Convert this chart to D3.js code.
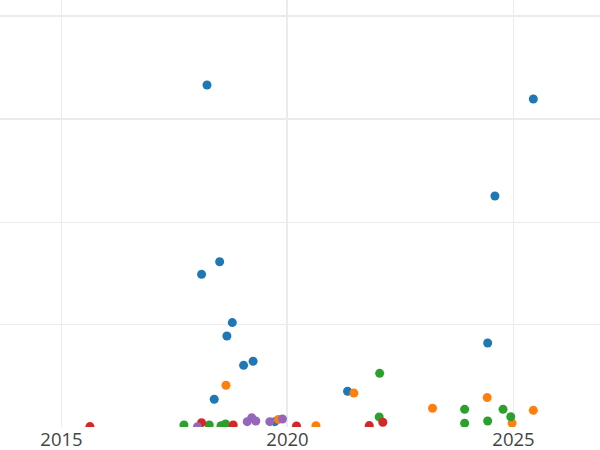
<!DOCTYPE html>
<html>
<head>
<meta charset="utf-8">
<script src="https://cdn.jsdelivr.net/npm/d3@7"></script>
<style>
  html, body { margin: 0; padding: 0; background: #fff; }
  svg { display: block; }
</style>
</head>
<body>
<svg id="chart" width="600" height="450"></svg>
<script>
// ---- data (year, value) ----
const blueYears   = [2018.23, 2025.45, 2024.60, 2018.51, 2018.11, 2018.79, 2018.67, 2019.04, 2019.25, 2024.44, 2018.39, 2021.34, 2019.73];
const blueValues  = [166.4, 159.6, 112.4, 80.4, 74.3, 50.8, 44.3, 30.0, 32.0, 40.9, 13.5, 17.4, 2.6];

const orangeYears  = [2018.65, 2021.48, 2023.22, 2024.43, 2025.45, 2024.98, 2020.64, 2019.81];
const orangeValues = [20.3, 16.5, 9.1, 14.3, 8.1, 1.9, 0.6, 3.7];

const greenYears  = [2017.72, 2018.28, 2018.54, 2018.64, 2022.05, 2022.04, 2023.93, 2023.93, 2024.44, 2024.78, 2024.95];
const greenValues = [1.0, 1.0, 0.6, 1.5, 26.1, 4.9, 8.6, 1.8, 2.9, 8.6, 5.0];

const redYears  = [2015.64, 2018.11, 2018.81, 2020.21, 2021.82, 2022.12];
const redValues = [0.2, 2.1, 1.0, 0.5, 0.7, 2.3];

const purpleYears  = [2018.02, 2019.12, 2019.22, 2019.31, 2019.62, 2019.90];
const purpleValues = [0.1, 2.6, 4.5, 2.9, 2.6, 3.9];

const seriesNames  = ["blue", "orange", "green", "red", "purple"];
const seriesColors = ["#1f77b4", "#ff7f0e", "#2ca02c", "#d62728", "#9467bd"];

const xTicks = [2015, 2020, 2025];
const yTicks = [50, 100, 150, 200];

// ---- layout ----
const plot = { left: 0, top: 0, width: 600, height: 427 };

const x = d3.scaleLinear()
  .domain([2015 - 61 / 45.2, 2015 + 539 / 45.2])
  .range([plot.left, plot.left + plot.width]);
const y = d3.scaleLinear()
  .domain([0, 200 * 427 / 411])
  .range([plot.top + plot.height, plot.top]);

const svg = d3.select("#chart");

svg.append("defs").append("clipPath").attr("id", "clip")
  .append("rect")
  .attr("x", plot.left).attr("y", plot.top)
  .attr("width", plot.width).attr("height", plot.height);

const grid = svg.append("g").attr("clip-path", "url(#clip)");

// horizontal grid
grid.selectAll("line.h").data(yTicks).enter().append("line")
  .attr("class", "h")
  .attr("x1", plot.left).attr("x2", plot.left + plot.width)
  .attr("y1", d => Math.round(y(d)) + (d >= 150 ? 0 : 0.5))
  .attr("y2", d => Math.round(y(d)) + (d >= 150 ? 0 : 0.5))
  .attr("stroke", "#ebebeb")
  .attr("stroke-width", d => d >= 150 ? 2 : 1);

// vertical grid
grid.selectAll("line.v").data(xTicks).enter().append("line")
  .attr("class", "v")
  .attr("x1", d => Math.round(x(d)) + (d === 2020 ? 0 : 0.5))
  .attr("x2", d => Math.round(x(d)) + (d === 2020 ? 0 : 0.5))
  .attr("y1", plot.top).attr("y2", plot.top + plot.height)
  .attr("stroke", "#ebebeb")
  .attr("stroke-width", d => d === 2020 ? 2 : 1);

// x axis labels via d3 axis
const xAxis = d3.axisBottom(x).tickValues(xTicks).tickFormat(d3.format("d")).tickSize(0).tickPadding(0);
const axG = svg.append("g")
  .attr("transform", `translate(0, ${plot.top + plot.height})`)
  .call(xAxis);
axG.select(".domain").remove();
axG.selectAll("text")
  .attr("dy", null)
  .attr("y", 19)
  .attr("fill", "#444")
  .style("font-family", "'Open Sans', sans-serif")
  .style("font-size", "18.5px");

// points
const allSeries = [
  { years: blueYears, values: blueValues },
  { years: orangeYears, values: orangeValues },
  { years: greenYears, values: greenValues },
  { years: redYears, values: redValues },
  { years: purpleYears, values: purpleValues }
];

const pts = svg.append("g").attr("clip-path", "url(#clip)");
allSeries.forEach((s, i) => {
  const data = s.years.map((yr, j) => ({ yr, v: s.values[j] }));
  pts.append("g").attr("class", seriesNames[i])
    .selectAll("circle").data(data).enter().append("circle")
    .attr("cx", d => x(d.yr))
    .attr("cy", d => y(d.v))
    .attr("r", 4.5)
    .attr("fill", seriesColors[i]);
});
</script>
</body>
</html>
